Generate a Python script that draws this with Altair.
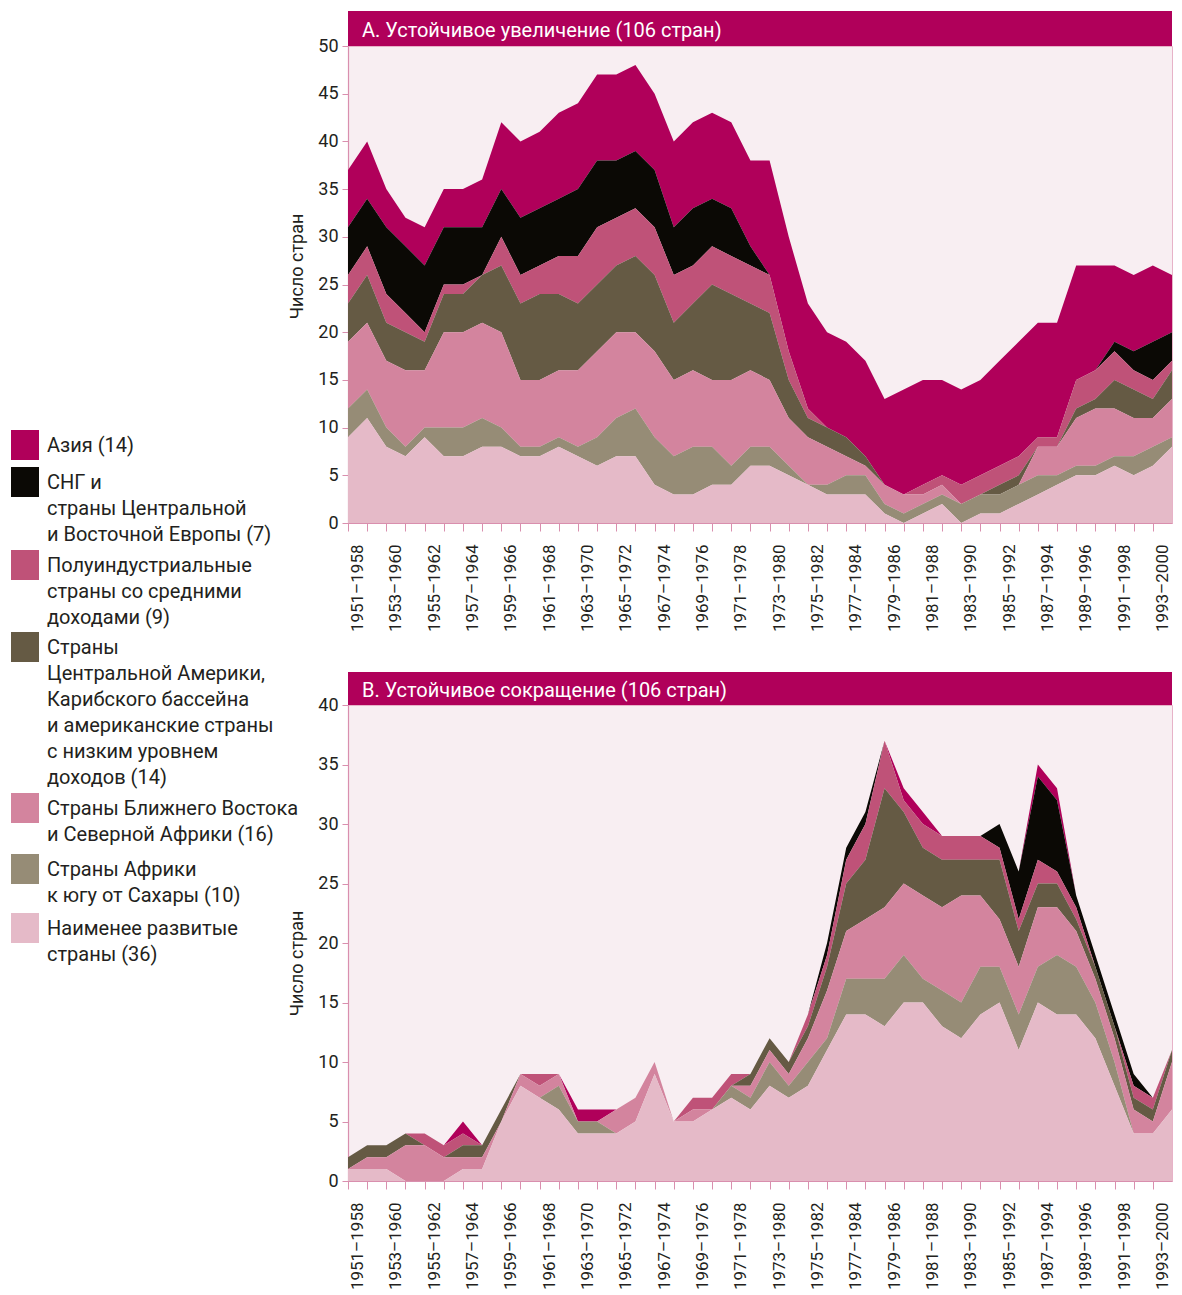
import json
import pandas as pd
import altair as alt

# ---------------- data ----------------
periods = ["1951–1958", "1952–1959", "1953–1960", "1954–1961", "1955–1962", "1956–1963",
           "1957–1964", "1958–1965", "1959–1966", "1960–1967", "1961–1968", "1962–1969",
           "1963–1970", "1964–1971", "1965–1972", "1966–1973", "1967–1974", "1968–1975",
           "1969–1976", "1970–1977", "1971–1978", "1972–1979", "1973–1980", "1974–1981",
           "1975–1982", "1976–1983", "1977–1984", "1978–1985", "1979–1986", "1980–1987",
           "1981–1988", "1982–1989", "1983–1990", "1984–1991", "1985–1992", "1986–1993",
           "1987–1994", "1988–1995", "1989–1996", "1990–1997", "1991–1998", "1992–1999",
           "1993–2000"]

series = ["asia", "cis", "semi", "cam", "mena", "ssa", "ldc"]
legend_lines = {
    "asia": ["Азия (14)"],
    "cis": ["СНГ и", "страны Центральной", "и Восточной Европы (7)"],
    "semi": ["Полуиндустриальные", "страны со средними", "доходами (9)"],
    "cam": ["Страны", "Центральной Америки,", "Карибского бассейна",
            "и американские страны", "с низким уровнем", "доходов (14)"],
    "mena": ["Страны Ближнего Востока", "и Северной Африки (16)"],
    "ssa": ["Страны Африки", "к югу от Сахары (10)"],
    "ldc": ["Наименее развитые", "страны (36)"],
}
colors = ["#B0005A", "#0B0905", "#BF5278", "#655A44", "#D3849E", "#968C76", "#E5BAC8"]
stack_order = ["ldc", "ssa", "mena", "cam", "semi", "cis", "asia"]

# Panel A: sustained increase (values at the 44 vertices of the area outline)
inc = {
    "ldc":  [9, 11, 8, 7, 9, 7, 7, 8, 8, 7, 7, 8, 7, 6, 7, 7, 4, 3, 3, 4, 4, 6,
             6, 5, 4, 3, 3, 3, 1, 0, 1, 2, 0, 1, 1, 2, 3, 4, 5, 5, 6, 5, 6, 8],
    "ssa":  [3, 3, 2, 1, 1, 3, 3, 3, 2, 1, 1, 1, 1, 3, 4, 5, 5, 4, 5, 4, 2, 2,
             2, 1, 0, 1, 2, 2, 1, 1, 1, 1, 2, 2, 2, 2, 2, 1, 1, 1, 1, 2, 2, 1],
    "mena": [7, 7, 7, 8, 6, 10, 10, 10, 10, 7, 7, 7, 8, 9, 9, 8, 9, 8, 8, 7, 9, 8,
             7, 5, 5, 4, 2, 1, 2, 2, 1, 1, 0, 0, 0, 0, 3, 3, 5, 6, 5, 4, 3, 4],
    "cam":  [4, 5, 4, 4, 3, 4, 4, 5, 7, 8, 9, 8, 7, 7, 7, 8, 8, 6, 7, 10, 9, 7,
             7, 4, 2, 2, 2, 1, 0, 0, 0, 0, 0, 0, 1, 1, 0, 0, 1, 1, 3, 3, 2, 3],
    "semi": [3, 3, 3, 2, 1, 1, 1, 0, 3, 3, 3, 4, 5, 6, 5, 5, 5, 5, 4, 4, 4, 4,
             4, 3, 1, 0, 0, 0, 0, 0, 1, 1, 2, 2, 2, 2, 1, 1, 3, 3, 3, 2, 2, 1],
    "cis":  [5, 5, 7, 7, 7, 6, 6, 5, 5, 6, 6, 6, 7, 7, 6, 6, 6, 5, 6, 5, 5, 2,
             0, 0, 0, 0, 0, 0, 0, 0, 0, 0, 0, 0, 0, 0, 0, 0, 0, 0, 1, 2, 4, 3],
    "asia": [6, 6, 4, 3, 4, 4, 4, 5, 7, 8, 8, 9, 9, 9, 9, 9, 8, 9, 9, 9, 9, 9,
             12, 12, 11, 10, 10, 10, 9, 11, 11, 10, 10, 10, 11, 12, 12, 12, 12, 11, 8, 8, 8, 6],
}

# Panel B: sustained decrease
dec = {
    "ldc":  [1, 1, 1, 0, 0, 0, 1, 1, 5, 8, 7, 6, 4, 4, 4, 5, 9, 5, 5, 6, 7, 6,
             8, 7, 8, 11, 14, 14, 13, 15, 15, 13, 12, 14, 15, 11, 15, 14, 14, 12, 8, 4, 4, 6],
    "ssa":  [0, 0, 0, 0, 0, 0, 0, 0, 0, 0, 0, 2, 1, 1, 0, 0, 0, 0, 0, 0, 1, 1,
             2, 1, 2, 1, 3, 3, 4, 4, 2, 3, 3, 4, 3, 3, 3, 5, 4, 3, 2, 0, 0, 0],
    "mena": [0, 1, 1, 3, 3, 2, 1, 1, 0, 1, 1, 1, 0, 0, 2, 2, 1, 0, 1, 0, 0, 1,
             1, 1, 2, 4, 4, 5, 6, 6, 7, 7, 9, 6, 4, 4, 5, 4, 3, 2, 2, 2, 1, 4],
    "cam":  [1, 1, 1, 1, 0, 0, 1, 1, 1, 0, 0, 0, 0, 0, 0, 0, 0, 0, 0, 0, 0, 1,
             1, 1, 1, 2, 4, 5, 10, 6, 4, 4, 3, 3, 5, 3, 2, 2, 1, 1, 1, 1, 1, 1],
    "semi": [0, 0, 0, 0, 1, 1, 1, 0, 0, 0, 1, 0, 0, 0, 0, 0, 0, 0, 1, 1, 1, 0,
             0, 0, 1, 1, 2, 3, 4, 1, 2, 2, 2, 2, 1, 1, 2, 1, 1, 0, 0, 1, 1, 0],
    "cis":  [0, 0, 0, 0, 0, 0, 0, 0, 0, 0, 0, 0, 0, 0, 0, 0, 0, 0, 0, 0, 0, 0,
             0, 0, 0, 1, 1, 1, 0, 0, 0, 0, 0, 0, 2, 4, 7, 6, 1, 1, 1, 1, 0, 0],
    "asia": [0, 0, 0, 0, 0, 0, 1, 0, 0, 0, 0, 0, 1, 1, 0, 0, 0, 0, 0, 0, 0, 0,
             0, 0, 0, 0, 0, 0, 0, 1, 1, 0, 0, 0, 0, 0, 1, 1, 0, 0, 0, 0, 0, 0],
}

title_a = "А. Устойчивое увеличение (106 стран)"
title_b = "B. Устойчивое сокращение (106 стран)"
y_title = "Число стран"

# ---------------- style ----------------
FONT = "Roboto"
TEXT = "#231F20"
PINK = "#D98FAE"
MAGENTA = "#B0005A"
BG = "#F8EEF2"
W = 824
N_BANDS = len(periods)


def long_df(d):
    rows = []
    for s in series:
        for i, v in enumerate(d[s]):
            rows.append({"pos": i, "series": s, "count": v,
                         "order": stack_order.index(s)})
    return pd.DataFrame(rows)


label_lookup = json.dumps(periods, ensure_ascii=False)


def panel(d, title, ymax, height, bar_h, title_y):
    base = alt.Chart(long_df(d)).mark_area(interpolate="linear").encode(
        x=alt.X("pos:Q",
                scale=alt.Scale(domain=[0, N_BANDS], nice=False, zero=False),
                axis=alt.Axis(values=list(range(N_BANDS)),
                              labelExpr=f"datum.value % 2 == 0 ? {label_lookup}[datum.value] : ''",
                              labelAngle=270, labelOffset=W / N_BANDS / 2,
                              labelFlush=False, labelOverlap=False, labelBound=False,
                              tickSize=8, labelPadding=13, labelFontSize=17,
                              title=None, grid=False)),
        y=alt.Y("count:Q", stack="zero",
                scale=alt.Scale(domain=[0, ymax], nice=False),
                axis=alt.Axis(values=list(range(0, ymax + 1, 5)), tickSize=6,
                              labelPadding=4, labelFontSize=18, grid=False,
                              title=y_title, titleFontSize=18, titleFontWeight="normal",
                              titleY=title_y, titlePadding=11)),
        color=alt.Color("series:N", scale=alt.Scale(domain=series, range=colors), legend=None),
        order=alt.Order("order:Q", sort="ascending"),
    )
    tdf = pd.DataFrame({"t": [title]})
    bar = alt.Chart(tdf).mark_rect(color=MAGENTA).encode(
        x=alt.value(0), x2=alt.value(W), y=alt.value(-bar_h), y2=alt.value(0))
    txt = alt.Chart(tdf).mark_text(align="left", baseline="middle", color="white",
                                   fontSize=20, font=FONT).encode(
        x=alt.value(14), y=alt.value(-bar_h / 2 + 2), text="t:N")
    return alt.layer(base, bar, txt).properties(
        width=W, height=height,
        view=alt.ViewBackground(fill=BG, stroke="#E7B3C8", strokeWidth=1))


top = panel(inc, title_a, 50, 477, 35, 220)
bottom = panel(dec, title_b, 40, 476, 33, 258)
right = alt.vconcat(top, bottom, spacing=38)

# ---------------- legend (built as marks) ----------------
LEG_W, LEG_H = 290, 1000
first_line_y = 400
line_step = 26
entry_gaps = [0, 11, 5, 4, 5, 9, 7]   # extra space before each entry
text_rows, sw_rows = [], []
k, extra = 0, 0
for e, s in enumerate(series):
    extra += entry_gaps[e]
    for j, line in enumerate(legend_lines[s]):
        y = first_line_y + line_step * k + extra
        if j == 0:
            sw_rows.append({"series": s, "x0": 3, "x1": 31, "y0": y - 16, "y1": y + 14})
        text_rows.append({"line": line, "tx": 39, "ty": y})
        k += 1

xs = alt.Scale(domain=[0, LEG_W], range=[0, LEG_W])
ys = alt.Scale(domain=[0, LEG_H], range=[0, LEG_H])
sw = alt.Chart(pd.DataFrame(sw_rows)).mark_rect().encode(
    x=alt.X("x0:Q", scale=xs, axis=None), x2="x1:Q",
    y=alt.Y("y0:Q", scale=ys, axis=None), y2="y1:Q",
    color=alt.Color("series:N", scale=alt.Scale(domain=series, range=colors), legend=None))
lt = alt.Chart(pd.DataFrame(text_rows)).mark_text(
    align="left", baseline="middle", fontSize=20, font=FONT, color=TEXT).encode(
    x=alt.X("tx:Q", scale=xs, axis=None), y=alt.Y("ty:Q", scale=ys, axis=None), text="line:N")
legend = alt.layer(sw, lt).properties(width=LEG_W, height=LEG_H,
                                      view=alt.ViewBackground(stroke=None))

chart = alt.hconcat(legend, right, spacing=340 - LEG_W, bounds="flush").properties(
    padding={"left": 0, "top": 2, "right": 0, "bottom": 0}
).configure_axis(
    labelFont=FONT, titleFont=FONT, labelColor=TEXT, titleColor=TEXT,
    domainColor=PINK, tickColor=PINK, domainWidth=1.2, tickWidth=1
).configure_view(stroke=None)

chart.save("out.html", embed_options={"renderer": "svg", "actions": False})
